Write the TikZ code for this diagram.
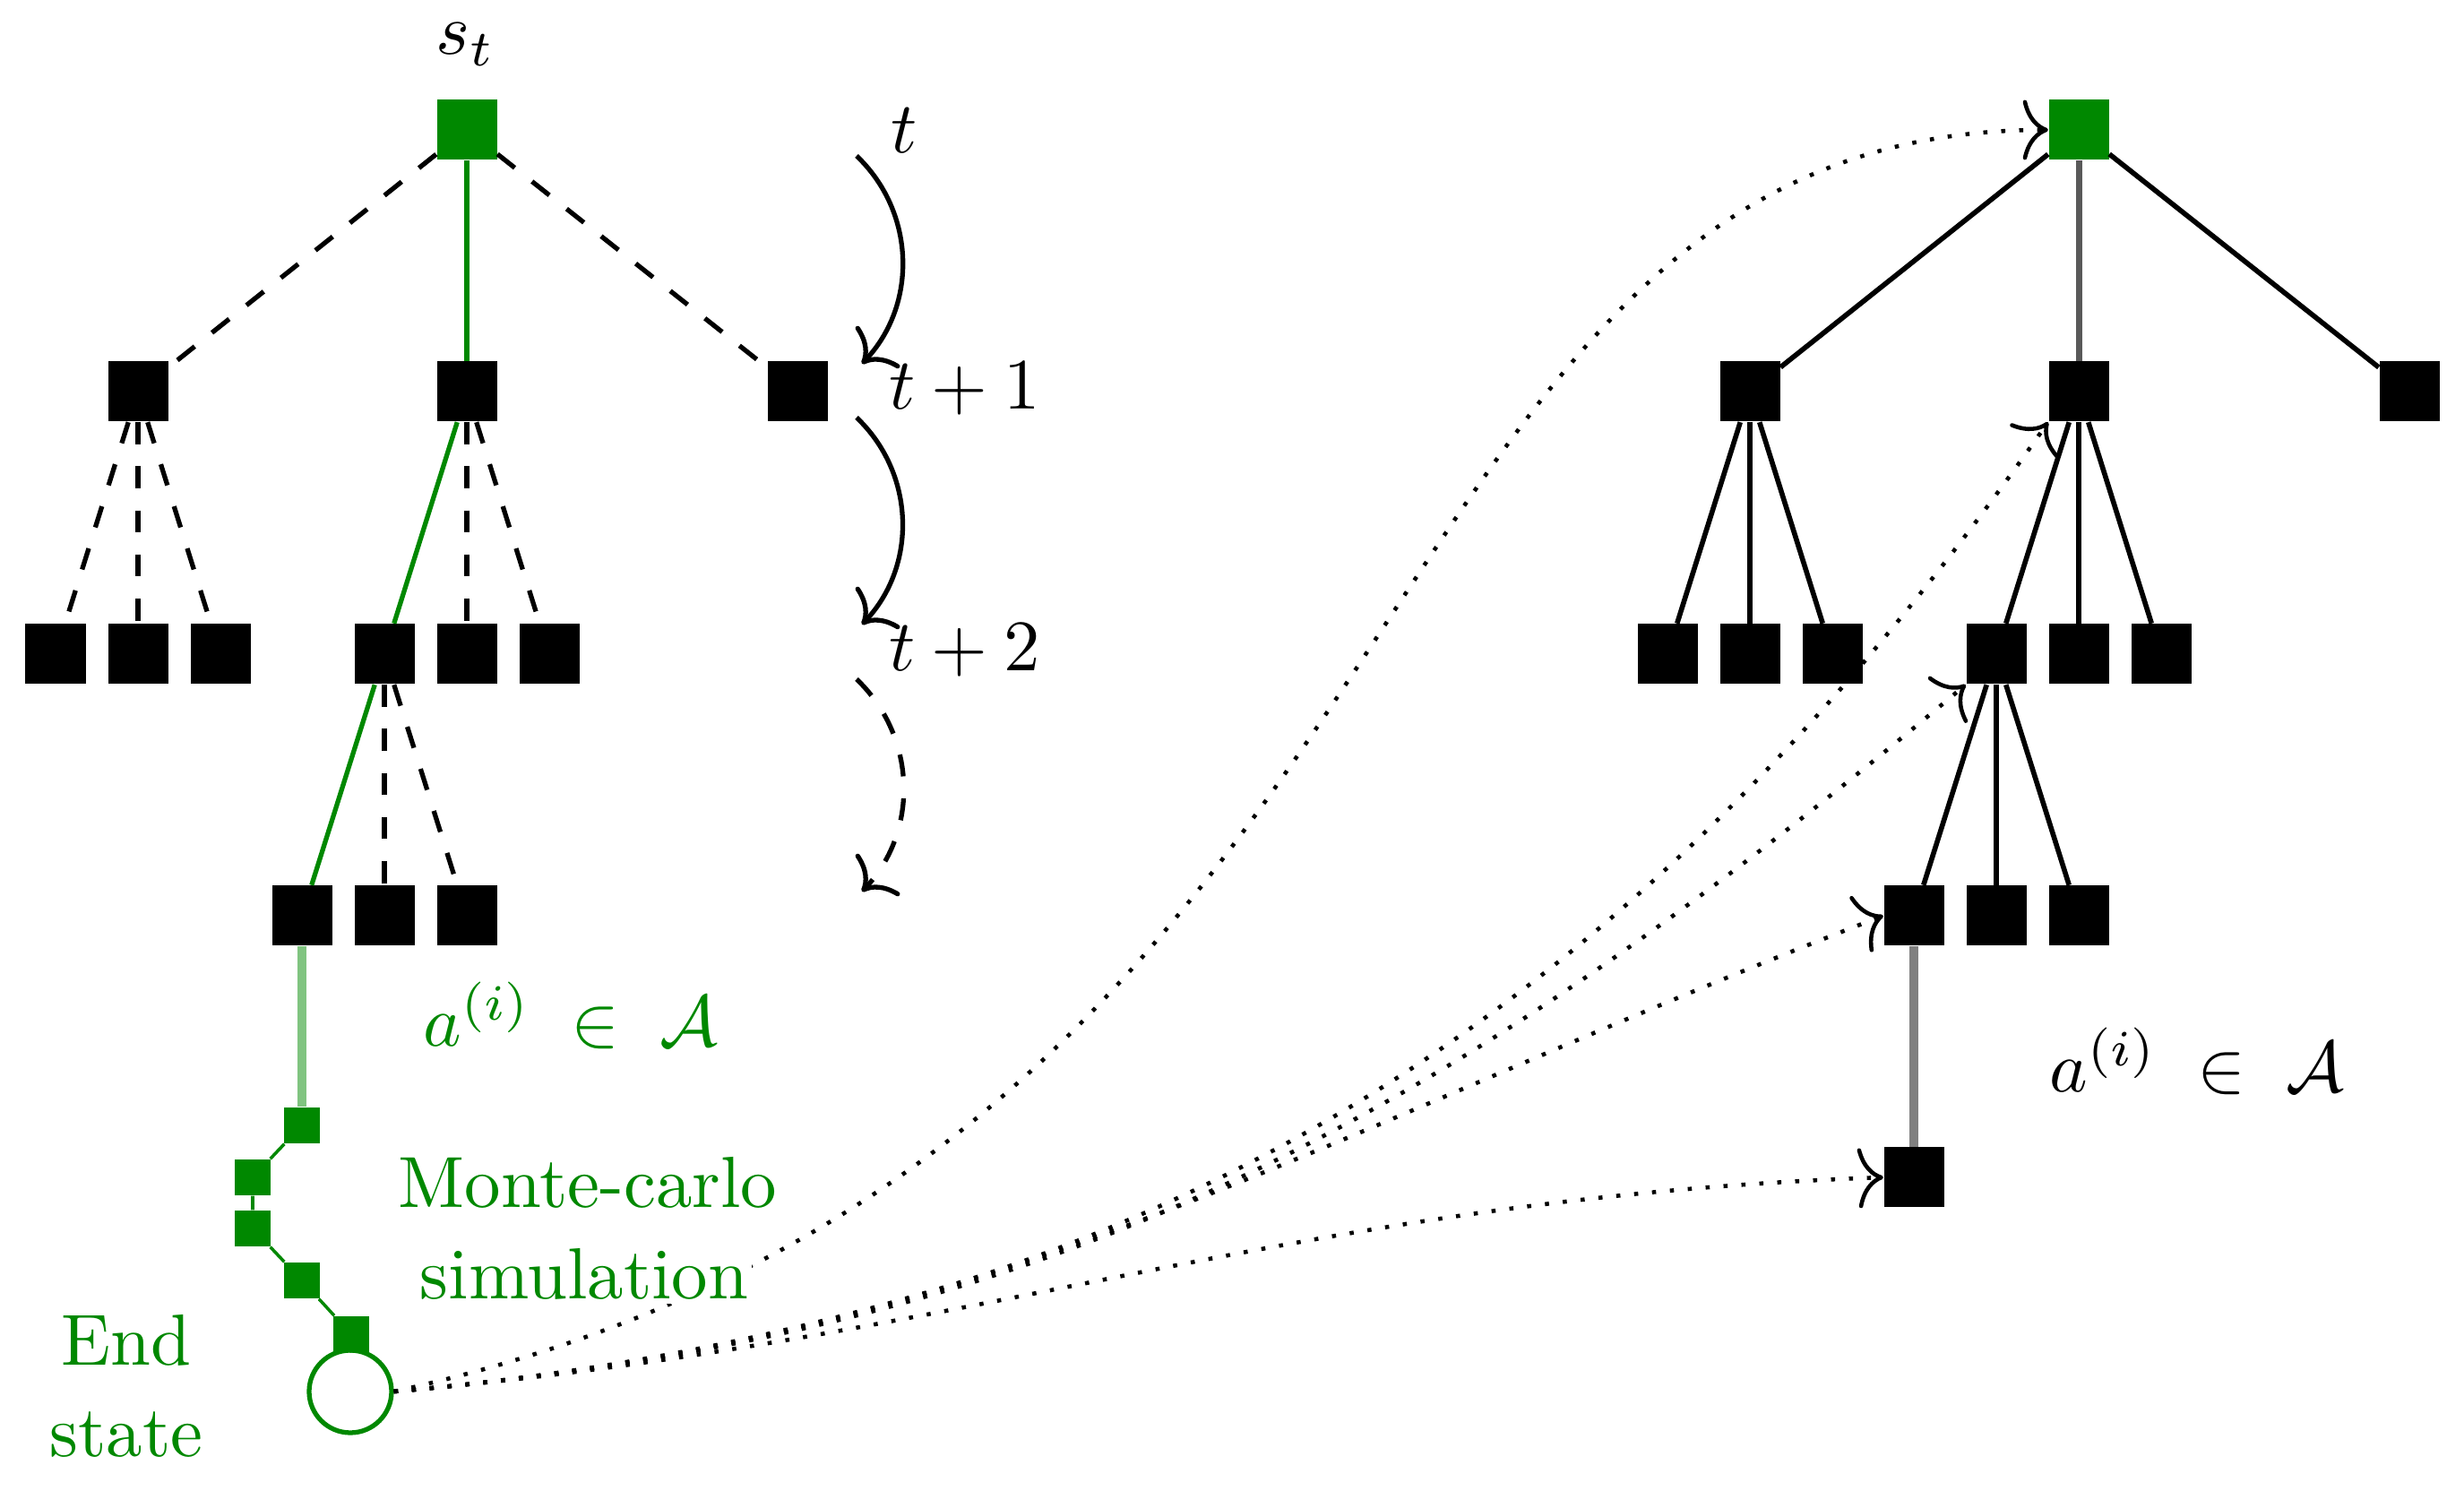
\RequirePackage{fix-cm}
\documentclass[tikz,border=0pt]{standalone}
\usetikzlibrary{arrows.meta}
\definecolor{mcgreen}{RGB}{0,136,0}
\definecolor{mclight}{RGB}{128,196,128}
\tikzset{
  st/.style={rectangle, fill=black, inner sep=0pt, minimum size=0.67cm},
  gst/.style={st, fill=mcgreen},
  simst/.style={rectangle, fill=mcgreen, inner sep=0pt, minimum size=0.4cm},
  untried/.style={line width=1.5pt, dash pattern=on 7pt off 7pt},
  chosen/.style={mcgreen, line width=1.5pt},
  tree/.style={line width=1.6pt},
  tarrow/.style={-{To[length=8pt,width=19pt]}, line width=1.5pt},
  backup/.style={-{To[length=8pt,width=19pt]}, line width=1.3pt, dash pattern=on 1.3pt off 4.4pt},
  lbl/.style={anchor=base, scale=2.3, transform shape},
}
\begin{document}
\begin{tikzpicture}[line join=round]
\useasboundingbox (0,0) rectangle (27.5,-16.64);

% Left tree (search)
\node[gst] (r) at (5.21,-1.45) {};
\node[lbl] (st) at (5.20,-0.61) {$s_t$};
\node[st] (a1) at (1.54,-4.37) {};
\node[st] (a2) at (5.21,-4.37) {};
\node[st] (a3) at (8.90,-4.37) {};
\node[st] (b1) at (0.62,-7.30) {};
\node[st] (b2) at (1.54,-7.30) {};
\node[st] (b3) at (2.46,-7.30) {};
\node[st] (b4) at (4.29,-7.30) {};
\node[st] (b5) at (5.21,-7.30) {};
\node[st] (b6) at (6.13,-7.30) {};
\node[st] (c1) at (3.37,-10.22) {};
\node[st] (c2) at (4.29,-10.22) {};
\node[st] (c3) at (5.21,-10.22) {};

\draw[untried] (r) -- (a1);
\draw[chosen]  (r) -- (a2);
\draw[untried] (r) -- (a3);
\draw[untried] (a1) -- (b1);
\draw[untried] (a1) -- (b2);
\draw[untried] (a1) -- (b3);
\draw[chosen]  (a2) -- (b4);
\draw[untried] (a2) -- (b5);
\draw[untried] (a2) -- (b6);
\draw[chosen]  (b4) -- (c1);
\draw[untried] (b4) -- (c2);
\draw[untried] (b4) -- (c3);

% Simulation chain
\node[simst] (m1) at (3.37,-12.56) {};
\node[simst] (m2) at (2.82,-13.14) {};
\node[simst] (m3) at (2.82,-13.71) {};
\node[simst] (m4) at (3.37,-14.29) {};
\node[simst] (m5) at (3.92,-14.89) {};
\node[circle, draw=mcgreen, line width=1.5pt, inner sep=0pt, minimum size=0.92cm] (e) at (3.91,-15.53) {};
\draw[mclight, line width=3pt] (c1) -- (m1);
\draw[mcgreen, line width=1pt] (m1) -- (m2) -- (m3) -- (m4) -- (m5) -- (e);

% Time steps
\node[lbl] (t0) at (10.09,-1.71) {$t$};
\node[lbl] (t1) at (10.77,-4.57) {$t+1$};
\node[lbl] (t2) at (10.77,-7.49) {$t+2$};
\coordinate (p0) at (9.56,-1.74);
\coordinate (p1) at (9.62,-4.06);
\coordinate (q0) at (9.56,-4.66);
\coordinate (q1) at (9.62,-6.97);
\coordinate (u0) at (9.56,-7.58);
\coordinate (u1) at (9.62,-9.95);
\draw[tarrow] (p0) to[bend left=45] (p1);
\draw[tarrow] (q0) to[bend left=45] (q1);
\draw[tarrow, dash pattern=on 7pt off 7pt] (u0) to[bend left=45] (u1);

% Right tree (backup)
\node[gst] (R) at (23.20,-1.45) {};
\node[st] (A1) at (19.53,-4.37) {};
\node[st] (A2) at (23.20,-4.37) {};
\node[st] (A3) at (26.89,-4.37) {};
\node[st] (B1) at (18.61,-7.30) {};
\node[st] (B2) at (19.53,-7.30) {};
\node[st] (B3) at (20.45,-7.30) {};
\node[st] (B4) at (22.28,-7.30) {};
\node[st] (B5) at (23.20,-7.30) {};
\node[st] (B6) at (24.12,-7.30) {};
\node[st] (C1) at (21.36,-10.22) {};
\node[st] (C2) at (22.28,-10.22) {};
\node[st] (C3) at (23.20,-10.22) {};
\node[st] (D1) at (21.36,-13.14) {};

\draw[tree] (R) -- (A1);
\draw[tree, black!65, line width=2pt] (R) -- (A2);
\draw[tree] (R) -- (A3);
\draw[tree] (A1) -- (B1);
\draw[tree] (A1) -- (B2);
\draw[tree] (A1) -- (B3);
\draw[tree] (A2) -- (B4);
\draw[tree] (A2) -- (B5);
\draw[tree] (A2) -- (B6);
\draw[tree] (B4) -- (C1);
\draw[tree] (B4) -- (C2);
\draw[tree] (B4) -- (C3);
\draw[gray, line width=3pt] (C1) -- (D1);

% Back-propagation arrows
\draw[backup] (e.east) .. controls (16.37,-12.9) and (14.85,-1.45) .. (R.west);
\draw[backup] (e.east) to[out=5, in=235] (A2.south west);
\draw[backup] (e.east) to[out=5, in=220] (B4.south west);
\draw[backup] (e.east) to[out=5, in=201] (C1.west);
\draw[backup] (e.east) to[out=5, in=182] (D1.west);

% Labels
\node[lbl, mcgreen] (ga) at (6.37,-11.68) {$a^{(i)} \;\in\; \mathcal{A}$};
\node[lbl] (ba) at (24.52,-12.19) {$a^{(i)} \;\in\; \mathcal{A}$};
\node[lbl, mcgreen, fill=white, inner sep=0.5pt] (mc1) at (6.56,-13.48) {Monte-carlo};
\node[lbl, mcgreen, fill=white, inner sep=0.5pt] (mc2) at (6.52,-14.50) {simulation};
\node[lbl, mcgreen] (en1) at (1.41,-15.24) {End};
\node[lbl, mcgreen] (en2) at (1.41,-16.26) {state};
\end{tikzpicture}
\end{document}
